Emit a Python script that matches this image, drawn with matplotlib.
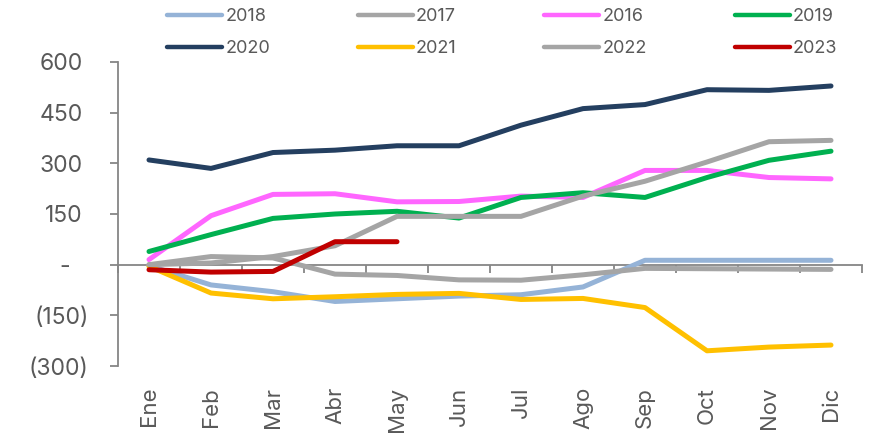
import matplotlib
matplotlib.use("Agg")
import matplotlib.pyplot as plt
from matplotlib.transforms import ScaledTranslation
import numpy as np

plt.rcParams['font.family'] = ['Inter', 'DejaVu Sans']

months = ['Ene', 'Feb', 'Mar', 'Abr', 'May', 'Jun', 'Jul', 'Ago', 'Sep', 'Oct', 'Nov', 'Dic']
y2018 = [-3, -60, -80, -109, -101, -93, -89, -66, 13, 13, 13, 13]
y2017 = [0, 24, 20, -28, -32, -45, -46, -30, -11, -12, -13, -14]
y2016 = [15, 145, 208, 210, 186, 187, 203, 199, 279, 279, 258, 254]
y2019 = [39, 89, 137, 150, 158, 138, 199, 213, 199, 258, 309, 336]
y2020 = [310, 285, 332, 339, 352, 352, 413, 462, 474, 518, 516, 529]
y2021 = [-5, -84, -101, -95, -88, -85, -103, -100, -127, -255, -244, -238]
y2022 = [0, 5, 24, 56, 143, 143, 143, 203, 247, 304, 364, 368]
y2023 = [-15, -22, -20, 68, 68]

series = [
    ('2018', y2018, '#95B3D7'),
    ('2017', y2017, '#A5A5A5'),
    ('2016', y2016, '#FF66FF'),
    ('2019', y2019, '#00B050'),
    ('2020', y2020, '#243F60'),
    ('2021', y2021, '#FFC000'),
    ('2022', y2022, '#A5A5A5'),
    ('2023', y2023, '#C00000'),
]

yticks = [-300, -150, 0, 150, 300, 450, 600]
ytick_labels = ['(300)', '(150)', '-', '150', '300', '450', '600']

text_color = '#595959'
axis_color = '#868686'

W, H = 869, 433
fig = plt.figure(figsize=(W / 100, H / 100), dpi=100)
ax = fig.add_axes([118 / W, 1 - 366 / H, (862 - 118) / W, (366 - 62) / H])

handles = {}
for name, vals, col in series:
    x = np.arange(len(vals))
    ln, = ax.plot(x, vals, color=col, lw=3.6, solid_capstyle='round',
                  solid_joinstyle='round', zorder=3, label=name, clip_on=False)
    handles[name] = ln

ax.set_xlim(-0.5, len(months) - 0.5)
ax.set_ylim(-300, 600)

for s in ['top', 'right']:
    ax.spines[s].set_visible(False)
ax.spines['left'].set_color(axis_color)
ax.spines['left'].set_linewidth(1.3)
ax.spines['bottom'].set_position(('data', 0))
ax.spines['bottom'].set_color(axis_color)
ax.spines['bottom'].set_linewidth(1.3)

ax.set_xticks(np.arange(-0.5, len(months), 1.0))
ax.tick_params(axis='x', direction='out', length=6, width=1.3, color=axis_color,
               labelbottom=False)

ax.set_yticks(yticks)
ax.set_yticklabels(ytick_labels)
ax.tick_params(axis='y', direction='out', length=6, width=1.3, color=axis_color,
               labelsize=16.5, labelcolor=text_color, pad=15)
shifts = {'(300)': 0, '(150)': 0, '-': -19, '150': -6, '300': -6, '450': -6, '600': -6}
for lab in ax.get_yticklabels():
    dx = shifts.get(lab.get_text(), 0) / 100
    lab.set_transform(lab.get_transform() + ScaledTranslation(dx, 0, fig.dpi_scale_trans))

sec = ax.secondary_xaxis('bottom')
sec.set_xticks(np.arange(len(months)))
sec.set_xticklabels(months, rotation=90)
sec.tick_params(axis='x', length=0, pad=15, labelsize=16, labelcolor=text_color)
sec.spines['bottom'].set_visible(False)

order = ['2018', '2020', '2017', '2021', '2016', '2022', '2019', '2023']
leg = fig.legend([handles[k] for k in order], order, ncol=4, loc='upper left',
                 bbox_to_anchor=(167 / W, 1 - 8 / H), frameon=False, fontsize=13,
                 handlelength=3.05, handletextpad=0.17, columnspacing=4.86,
                 labelspacing=0.84, borderpad=0, borderaxespad=0)
for t in leg.get_texts():
    t.set_color(text_color)
for l in leg.get_lines():
    l.set_linewidth(3.2)

fig.savefig('out.png', dpi=100)
